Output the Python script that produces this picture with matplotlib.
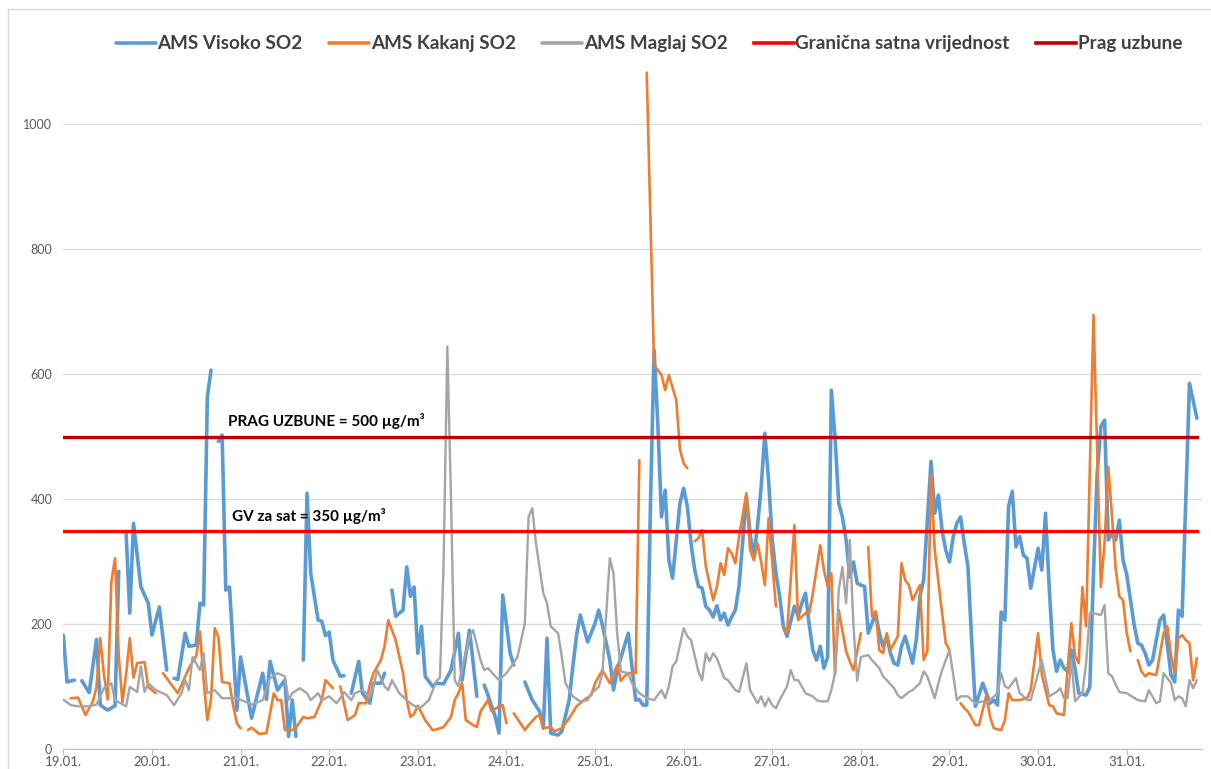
import numpy as np
import matplotlib.pyplot as plt
from matplotlib.lines import Line2D

nan = np.nan

# hourly SO2 values (hours since 19.01. 00:00); nan = missing
visoko_h = [0, 1, 3, 4, 5, 7, 9, 10, 12, 14, 15, 16, 17, 18, 19, 21, 23, 24, 26, 28, 29, 30, 31, 33, 34, 36,
            37, 38, 39, 40, 41, 42, 43, 44, 45, 47, 48, 51, 52, 54, 55, 56, 58, 60, 61, 62, 63, 64, 65, 66,
            67, 69, 70, 71, 72, 73, 75, 76, 77, 78, 80, 81, 83, 84, 86, 87, 88, 89, 90, 92, 93, 94, 95, 96,
            97, 98, 100, 101, 103, 105, 107, 108, 110, 112, 113, 114, 115, 117, 118, 119, 121, 122, 123, 125,
            127, 129, 130, 131, 132, 134, 135, 137, 138, 139, 140, 142, 144, 145, 146, 148, 149, 150, 153,
            155, 156, 157, 158, 159, 160, 161, 162, 163, 164, 165, 167, 168, 169, 170, 171, 172, 173, 174,
            175, 176, 177, 178, 179, 180, 181, 182, 183, 185, 186, 187, 188, 189, 190, 191, 192, 193, 194,
            195, 196, 197, 198, 199, 200, 201, 202, 203, 204, 205, 206, 207, 208, 209, 210, 211, 212, 213,
            214, 215, 216, 217, 218, 219, 220, 221, 222, 223, 224, 225, 226, 227, 228, 230, 231, 232, 233,
            235, 236, 237, 238, 239, 240, 241, 242, 243, 244, 245, 246, 247, 249, 251, 252, 253, 254, 255,
            256, 257, 258, 259, 260, 261, 262, 264, 265, 266, 267, 268, 269, 270, 271, 272, 273, 274, 275,
            277, 278, 279, 280, 281, 282, 283, 284, 285, 286, 287, 288, 289, 290, 291, 292, 293, 294, 295,
            297, 298, 300, 301, 302, 303, 305, 307]
visoko_v = [183, 108, 111, nan, 110, 91, 176, 71, 63, 70, 285, nan, 346, 218, 362, 260, 234, 183, 228, 127, nan,
            114, 112, 186, 165, 167, 234, 231, 564, 607, nan, 493, 503, 255, 260, 63, 148, 50, 75, 122, 80, 141,
            95, 111, 21, 79, 21, nan, 143, 410, 282, 207, 205, 182, 188, 143, 117, 118, nan, 90, 141, 90, 74,
            106, 106, 122, nan, 255, 213, 223, 292, 245, 260, 154, 197, 117, 101, 106, 105, 127, 186, 111, 191,
            85, nan, 103, 87, 52, 26, 247, 154, 135, nan, 108, 79, 61, 34, 178, 26, 23, 29, 79, 133, 183, 215,
            172, 202, 223, 199, 143, 95, 127, 186, 79, 80, 71, 71, 389, 639, 522, 372, 415, 303, 274, 394, 418,
            389, 330, 287, 261, 258, 229, 223, 212, 230, 207, 218, 199, 212, 223, 261, 405, 346, 308, 357, 420,
            506, 431, 335, 282, 245, 197, 181, 205, 229, 213, 234, 250, 200, 159, 143, 165, 130, 148, 575, 500,
            394, 372, 335, 276, 300, 266, 263, 261, 186, 202, 218, 186, 165, 181, 154, 138, 135, 165, 181, 138,
            175, 245, 271, 461, 378, 407, 350, 319, 300, 340, 362, 372, 330, 293, 175, 69, 106, 74, 79, 71, 220,
            207, 389, 413, 324, 341, 311, 306, 258, 322, 287, 378, 260, 160, 125, 143, 130, 125, 159, 130, 90,
            87, 100, 282, 442, 517, 527, 335, 346, 335, 367, 303, 280, 240, 200, 170, 167, 154, 135, 143, 207,
            215, 119, 108, 223, 213, 586, 530]

kakanj_h = [2, 4, 6, 8, 9, 10, 11, 12, 13, 14, 15, 16, 17, 18, 19, 20, 22, 23, 25, 26, 27, 28, 31, 34, 35, 36,
            37, 38, 39, 40, 41, 42, 43, 45, 46, 47, 48, 49, 50, 51, 53, 55, 57, 58, 59, 60, 62, 63, 65, 66, 68,
            70, 71, 73, 74, 75, 77, 79, 80, 82, 83, 84, 86, 87, 88, 90, 92, 93, 94, 95, 96, 98, 100, 101, 103,
            105, 106, 107, 108, 109, 111, 112, 113, 115, 116, 118, 119, 120, 121, 122, 125, 126, 128, 129, 130,
            132, 133, 135, 136, 137, 139, 141, 143, 144, 146, 148, 150, 151, 152, 153, 155, 156, 157, 158, 160,
            162, 163, 164, 166, 167, 168, 169, 170, 171, 172, 173, 174, 176, 177, 178, 179, 180, 181, 182, 183,
            185, 186, 187, 188, 189, 190, 191, 192, 193, 194, 195, 196, 198, 199, 201, 202, 203, 205, 206, 207,
            208, 209, 210, 211, 212, 213, 214, 216, 217, 218, 219, 220, 221, 222, 223, 224, 226, 227, 228, 229,
            230, 232, 233, 234, 235, 236, 238, 239, 240, 241, 243, 244, 245, 247, 248, 250, 251, 252, 254, 255,
            256, 257, 259, 261, 262, 264, 265, 267, 268, 269, 271, 273, 274, 275, 276, 277, 279, 281, 282, 283,
            284, 285, 286, 287, 288, 289, 290, 291, 292, 293, 294, 296, 298, 299, 300, 301, 302, 303, 304, 305,
            306, 307]
kakanj_v = [82, 83, 55, 77, 100, 178, 120, 80, 268, 306, 150, 76, 120, 178, 115, 138, 140, 100, 90, nan, 122, 114,
            90, 130, 140, 150, 189, 110, 47, 80, 194, 180, 108, 106, 70, 42, 34, nan, 31, 35, 25, 26, 90, 79, 79,
            31, 31, 35, 52, 50, 52, 79, 111, 98, nan, 101, 47, 55, 74, 74, 103, 122, 143, 165, 207, 175, 122, 79,
            52, 57, 70, 47, 31, 32, 36, 52, 79, 90, 106, 47, 39, 36, 61, 79, 61, 69, 71, 42, nan, 58, 31, 39, 52,
            55, 34, 36, 29, 34, 42, 50, 69, 79, 87, 106, 127, 106, 135, 110, 117, 122, 122, 463, nan, 1083, 615,
            599, 575, 599, 559, 480, 458, 450, nan, 333, 338, 351, 293, 239, 260, 298, 279, 322, 314, 298, 340,
            410, 319, 303, 330, 300, 263, 370, 300, 229, nan, 194, 186, 359, 207, 218, 218, 250, 327, 287, 261,
            282, 120, 223, 190, 157, 141, 127, 186, nan, 324, 213, 221, 159, 154, 186, 159, 181, 298, 271, 263,
            239, 263, 143, 157, 439, 319, 218, 170, 159, nan, 74, 66, 61, 39, 39, 87, 52, 34, 31, 47, 90, 79, 79,
            82, 95, 186, 120, 71, 69, 58, 55, 202, 150, 138, 260, 197, 695, 260, 330, 452, 375, 290, 245, 239,
            186, 157, nan, 143, 125, 117, 122, 119, 186, 197, 150, 122, 178, 183, 175, 170, 111, 146]

maglaj_h = [0, 2, 4, 7, 9, 11, 13, 14, 17, 18, 20, 21, 22, 23, 25, 28, 30, 32, 33, 34, 35, 37, 38, 39, 41, 43,
            45, 47, 49, 51, 54, 56, 58, 60, 61, 62, 64, 66, 67, 69, 70, 72, 74, 75, 76, 78, 79, 81, 83, 84, 85,
            87, 88, 89, 91, 93, 94, 96, 97, 99, 101, 102, 103, 104, 105, 106, 107, 108, 110, 111, 113, 114, 115,
            117, 118, 120, 121, 123, 124, 125, 126, 127, 128, 130, 131, 132, 134, 135, 136, 138, 140, 142, 143,
            145, 146, 148, 149, 150, 151, 153, 154, 156, 158, 160, 162, 163, 164, 165, 166, 168, 169, 170, 171,
            172, 173, 174, 175, 176, 177, 179, 180, 182, 183, 185, 186, 188, 189, 190, 191, 192, 193, 194, 196,
            197, 198, 199, 200, 201, 203, 204, 205, 207, 208, 209, 210, 211, 212, 213, 214, 215, 216, 218, 219,
            221, 222, 223, 225, 226, 227, 229, 230, 232, 233, 234, 236, 237, 238, 240, 241, 242, 243, 245, 246,
            247, 249, 250, 251, 253, 254, 255, 256, 258, 259, 260, 261, 262, 265, 267, 269, 270, 271, 272, 273,
            274, 276, 277, 278, 279, 281, 282, 283, 284, 286, 288, 291, 293, 294, 296, 297, 298, 300, 301, 302,
            303, 304, 305, 306, 307]
maglaj_v = [80, 71, 69, 69, 72, 98, 106, 79, 69, 100, 92, 133, 92, 106, 95, 87, 71, 90, 111, 95, 148, 127, 154, 90,
            95, 82, 82, 82, 77, 72, 79, 114, 122, 117, 79, 90, 98, 90, 79, 90, 79, 85, 74, 82, 92, 79, 90, 95, 85,
            101, 127, 101, 95, 111, 90, 79, 74, 66, 68, 79, 109, 115, 300, 645, 400, 111, 101, 130, 180, 191, 143,
            127, 130, 117, 111, 122, 130, 148, 175, 202, 372, 386, 330, 250, 234, 197, 186, 148, 106, 85, 77, 79,
            90, 100, 122, 306, 282, 186, 125, 122, 106, 90, 82, 79, 95, 82, 101, 133, 141, 194, 181, 175, 150,
            125, 111, 154, 141, 154, 146, 114, 111, 95, 92, 138, 95, 74, 85, 69, 82, 71, 66, 79, 101, 127, 111,
            111, 101, 90, 85, 79, 77, 77, 95, 122, 255, 292, 234, 335, 197, 110, 148, 151, 143, 130, 117, 111, 98,
            87, 82, 92, 95, 106, 125, 117, 82, 106, 127, 159, 120, 79, 85, 85, 79, 74, 77, 74, 79, 90, 122, 101,
            98, 114, 90, 85, 79, 79, 143, 85, 92, 98, 82, 82, 143, 77, 90, 138, 218, 218, 215, 231, 122, 117, 92,
            90, 79, 77, 95, 74, 77, 122, 106, 79, 85, 82, 69, 111, 98, 111]

gv_limit = 350     # granicna satna vrijednost
prag_limit = 500   # prag uzbune

day_labels = ["19.01.", "20.01.", "21.01.", "22.01.", "23.01.", "24.01.", "25.01.",
              "26.01.", "27.01.", "28.01.", "29.01.", "30.01.", "31.01."]
y_ticks = [0, 200, 400, 600, 800, 1000]

plt.rcParams['font.family'] = ['Lato', 'DejaVu Sans']

fig = plt.figure(figsize=(12.11, 7.69), dpi=100)
ax = fig.add_axes([0.0523, 0.0254, 0.9403, 0.894])

kw = dict(solid_joinstyle="round", solid_capstyle="round")
ax.plot(visoko_h, visoko_v, color="#5B9BD5", lw=2.6, label="AMS Visoko SO2", **kw)
ax.plot(kakanj_h, kakanj_v, color="#ED7D31", lw=1.9, label="AMS Kakanj SO2", **kw)
ax.plot(maglaj_h, maglaj_v, color="#A5A5A5", lw=1.7, label="AMS Maglaj SO2", **kw)
span = [visoko_h[0], visoko_h[-1]]
ax.plot(span, [gv_limit] * 2, color="#FF0000", lw=2.4, label="Granična satna vrijednost")
ax.plot(span, [prag_limit] * 2, color="#C00000", lw=2.4, label="Prag uzbune")

ax.text(44.6, prag_limit + 26, "PRAG UZBUNE = 500 µg/m³", fontsize=11, fontweight="bold",
        va="center", ha="left", color="black")
ax.text(45.7, gv_limit + 24, "GV za sat = 350 µg/m³", fontsize=11, fontweight="bold",
        va="center", ha="left", color="black")

ax.set_xlim(0, 308.4)
ax.set_ylim(0, 1100)
ax.set_xticks(np.arange(len(day_labels)) * 24)
ax.set_xticklabels(day_labels)
ax.set_yticks(y_ticks)
ax.grid(axis="y", color="#D9D9D9", lw=0.9)
ax.set_axisbelow(True)
for s in ["top", "right", "left"]:
    ax.spines[s].set_visible(False)
ax.spines["bottom"].set_color("#BFBFBF")
ax.tick_params(axis="x", colors="#595959", labelsize=9.5, length=4, pad=1, color="#BFBFBF")
ax.tick_params(axis="y", colors="#595959", labelsize=9, length=0, pad=8)

leg = fig.legend(loc="center", bbox_to_anchor=(0.536, 0.943), ncol=5, frameon=False,
                 fontsize=13.6, handlelength=2.1, handletextpad=0.1, columnspacing=1.4)
for t in leg.get_texts():
    t.set_color("#404040")
    t.set_fontweight("bold")
for h in leg.get_lines():
    h.set_linewidth(2.6)

# chart border
fig.add_artist(Line2D([0.0066, 1], [0.9883, 0.9883], color="#D9D9D9", lw=1))
fig.add_artist(Line2D([0.0066, 0.0066], [0, 0.9883], color="#D9D9D9", lw=1))

fig.savefig("out.png", dpi=100)
